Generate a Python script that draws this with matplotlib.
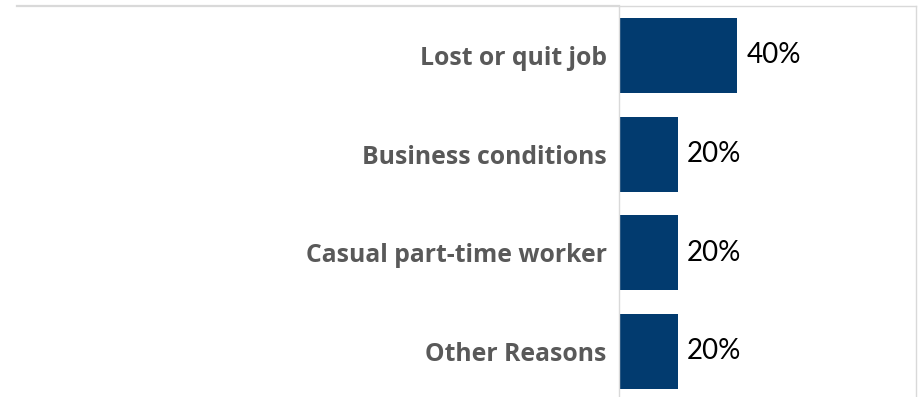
import matplotlib
matplotlib.use("Agg")
import matplotlib.pyplot as plt
from matplotlib.lines import Line2D

categories = ["Lost or quit job", "Business conditions", "Casual part-time worker", "Other Reasons"]
values = [40, 20, 20, 20]
value_labels = ["40%", "20%", "20%", "20%"]

W, H = 922, 397
DPI = 100
fig = plt.figure(figsize=(W / DPI, H / DPI), dpi=DPI)
fig.patch.set_facecolor("white")

left_px, right_px, top_px, bottom_px = 618.5, 915.5, 6.0, 400.7
ax = fig.add_axes([left_px / W, 1 - bottom_px / H, (right_px - left_px) / W, (bottom_px - top_px) / H])

pos = list(range(len(categories)))
ax.barh(pos, values, height=0.76, color="#023B6F", zorder=2)
ax.set_ylim(len(categories) - 0.5, -0.5)
ax.set_xlim(0, 100)

ax.set_yticks(pos)
ax.set_yticklabels(categories, fontfamily="Open Sans", fontweight="bold", fontsize=17.8, color="#595959")
ax.tick_params(axis="y", length=0, pad=8.5)
ax.set_xticks([])

for p, v, lab in zip(pos, values, value_labels):
    ax.annotate(lab, xy=(v, p), xytext=(6.5, 0), textcoords="offset points",
                ha="left", va="center", fontfamily="Lato", fontsize=20, color="black")

for s in ["top", "right", "left"]:
    ax.spines[s].set_color("#D9D9D9")
    ax.spines[s].set_linewidth(1.0)
ax.spines["bottom"].set_visible(False)

fig.add_artist(Line2D([17 / W, 618.5 / W], [1 - 6 / H, 1 - 6 / H], transform=fig.transFigure,
                      color="#D9D9D9", linewidth=1.6))

fig.savefig("out.png", dpi=DPI, facecolor="white")
